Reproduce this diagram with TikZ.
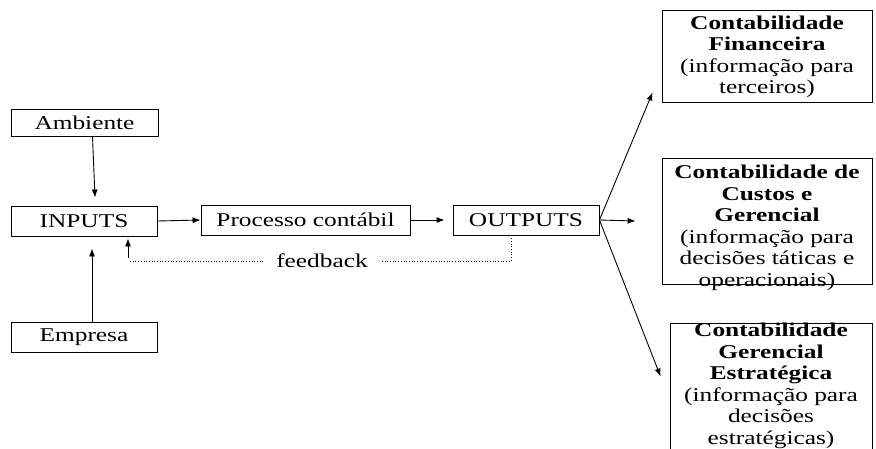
\documentclass[tikz,border=0pt]{standalone}
\usepackage{fontspec}
\setmainfont{Liberation Serif}[FakeStretch=1.3]
\usetikzlibrary{arrows.meta}

\tikzset{
	box/.style={draw, line width=0.9pt, minimum height=30, inner sep=0pt},
	boxtext/.style={align=center, inner sep=0pt, font=\fontsize{19.5}{21.5}\selectfont},
	arr/.style={line width=0.9pt, -{Latex[length=8pt,width=6pt]}},
	fbline/.style={dotted, line width=0.7pt}
}

\begin{document}
\begin{tikzpicture}[x=1pt, y=-1pt, font=\fontsize{19.5}{22}\selectfont]

	\useasboundingbox (0,0) rectangle (876,448);

	% left column and main chain
	\node[box, minimum width=147, minimum height=27] (ambiente) at (84.5,122.5) {Ambiente};
	\node[box, minimum width=146] (inputs) at (84,221) {INPUTS};
	\node[box, minimum width=146] (empresa) at (84,337) {Empresa};
	\node[box, minimum width=209] (processo) at (305.5,220) {Processo contábil};
	\node[box, minimum width=146] (outputs) at (526,220) {OUTPUTS};

	% right column
	\node[box, minimum width=210, minimum height=92] (financeira) at (767,56) {};
	\node[boxtext] at ([yshift=-1]financeira.center) {\textbf{Contabilidade}\\\textbf{Financeira}\\(informação para\\terceiros)};
	\node[box, minimum width=210, minimum height=126] (custos) at (767,221) {};
	\node[boxtext] at ([yshift=-7]custos.center) {\textbf{Contabilidade de}\\\textbf{Custos e}\\\textbf{Gerencial}\\(informação para\\decisões táticas e\\operacionais)};
	\node[box, minimum width=202, minimum height=150] (estrategica) at (771,398) {};
	\node[boxtext] at ([yshift=12]estrategica.center) {\textbf{Contabilidade}\\\textbf{Gerencial}\\\textbf{Estratégica}\\(informação para\\decisões\\estratégicas)};

	\draw[arr] ([xshift=8]ambiente.south) -- ([xshift=11,yshift=8]inputs.north);
	\draw[arr] ([xshift=8]empresa.north) -- ([xshift=8,yshift=-12]inputs.south);
	\draw[arr] (inputs.east) -- (processo.west);
	\draw[arr] (processo.east) -- ([xshift=-8]outputs.west);

	% feedback loop
	\node[inner xsep=13pt] (fb) at (322,261) {feedback};
	\coordinate (fbend) at (130,261);
	\draw[fbline] ([xshift=-15]outputs.south) |- (fb.east);
	\draw[fbline] (fb.west) -- (fbend);
	\draw[arr] ([xshift=-2,yshift=3]fbend) -- ([xshift=44,yshift=-2]inputs.south);

	\draw[arr] (outputs.east) -- ([xshift=-9,yshift=10]financeira.south west);
	\draw[arr] (outputs.east) -- ([xshift=-26]custos.west);
	\draw[arr] (outputs.east) -- ([xshift=-9,yshift=-54]estrategica.north west);

\end{tikzpicture}
\end{document}
